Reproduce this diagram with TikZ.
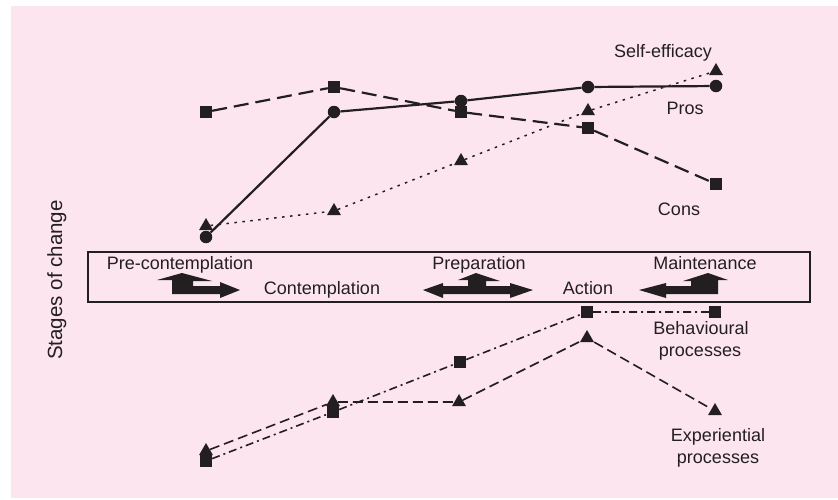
\documentclass[tikz,border=0pt]{standalone}
\usepackage{fontspec}
\setmainfont{Liberation Sans}
\usetikzlibrary{shapes.geometric}
\definecolor{ink}{RGB}{35,31,32}
\definecolor{bgpink}{RGB}{252,229,239}
\begin{document}
\begin{tikzpicture}[x=1pt,y=-1pt,
  sq/.style={rectangle, fill=ink, minimum size=12pt, inner sep=0pt},
  dot/.style={circle, fill=ink, minimum size=12.5pt, inner sep=0pt},
  tri/.style={regular polygon, regular polygon sides=3, fill=ink, minimum size=16pt, inner sep=0pt},
  lbl/.style={font=\fontsize{18}{20}\selectfont, text=ink, inner sep=0pt, anchor=base},
  consline/.style={draw=ink, line width=2.2pt, dash pattern=on 15pt off 7pt},
  prosline/.style={draw=ink, line width=2.2pt},
  selfline/.style={draw=ink, line width=1.5pt, dash pattern=on 2.5pt off 5.5pt},
  behline/.style={draw=ink, line width=1.6pt, dash pattern=on 8pt off 4pt on 2pt off 4pt},
  expline/.style={draw=ink, line width=1.6pt, dash pattern=on 10pt off 5pt},
  stagearrow/.style={fill=ink}
]
\useasboundingbox (0,0) rectangle (838,499);
\fill[bgpink] (11,6) rectangle (838,498);

% axis label
\node[font=\fontsize{20.5}{22}\selectfont, text=ink, inner sep=0pt, anchor=base, rotate=90] (axis) at (62,280) {Stages of change};

% stages box
\node[draw=ink, line width=1.8pt, minimum width=722pt, minimum height=50pt, inner sep=0pt] (box) at (449,277) {};
\node[lbl] (pre) at (180,269) {Pre-contemplation};
\node[lbl] (con) at (322,294) {Contemplation};
\node[lbl] (prep) at (479,269) {Preparation};
\node[lbl] (act) at (588,294) {Action};
\node[lbl] (main) at (705,269) {Maintenance};

% stage arrows
\fill[stagearrow] (172,294) -- (172,280) -- (157,280) -- (182,273) -- (212,281) -- (193,281) -- (193,286) -- (220,286) -- (220,282) -- (240,290) -- (220,298) -- (220,294) -- cycle;
\fill[stagearrow] (423,290) -- (443,283) -- (443,286) -- (468,286) -- (468,280) -- (458,280) -- (476,273) -- (500,281) -- (486,281) -- (486,286) -- (510,286) -- (510,283) -- (533,290) -- (510,298) -- (510,294) -- (443,294) -- (443,298) -- cycle;
\fill[stagearrow] (639,290) -- (666,283) -- (666,286) -- (691,286) -- (691,281) -- (683,281) -- (708,273) -- (728,280) -- (718,280) -- (718,294) -- (666,294) -- (666,298) -- cycle;

% upper series markers
\node[sq] (c1) at (206,112) {};
\node[sq] (c2) at (334,87) {};
\node[sq] (c3) at (461,112) {};
\node[sq] (c4) at (588,128) {};
\node[sq] (c5) at (716,184) {};
\node[dot] (p1) at (206,237) {};
\node[dot] (p2) at (334,112) {};
\node[dot] (p3) at (461,101) {};
\node[dot] (p4) at (588,87) {};
\node[dot] (p5) at (716,86) {};
\node[tri] (s1) at (206,226) {};
\node[tri] (s2) at (334,211) {};
\node[tri] (s3) at (461,161) {};
\node[tri] (s4) at (588,111) {};
\node[tri] (s5) at (716,71) {};

\path[consline] (c1) -- (c2) -- (c3) -- (c4) -- (c5);
\path[prosline] (p1) -- (p2) -- (p3) -- (p4) -- (p5);
\path[selfline] (s1) -- (s2) -- (s3) -- (s4) -- (s5);

\node[lbl] (selflbl) at (663,57) {Self-efficacy};
\node[lbl] (proslbl) at (685,114) {Pros};
\node[lbl] (conslbl) at (679,215) {Cons};

% lower series markers
\node[tri] (e1) at (206,451) {};
\node[tri] (e2) at (333,402) {};
\node[tri] (e3) at (459,402) {};
\node[tri] (e4) at (587,338) {};
\node[tri] (e5) at (715,411) {};
\node[sq] (b1) at (206,461) {};
\node[sq] (b2) at (333,412) {};
\node[sq] (b3) at (460,362) {};
\node[sq] (b4) at (587,312) {};
\node[sq] (b5) at (715,312) {};

\path[behline] (b1) -- (b2) -- (b3) -- (b4) -- (b5);
\path[expline] (e1) -- (e2) -- (e3) -- (e4) -- (e5);

\node[lbl] (behlbl1) at (701,334) {Behavioural};
\node[lbl] (behlbl2) at (700,356) {processes};
\node[lbl] (explbl1) at (718,441) {Experiential};
\node[lbl] (explbl2) at (718,463) {processes};
\end{tikzpicture}
\end{document}
